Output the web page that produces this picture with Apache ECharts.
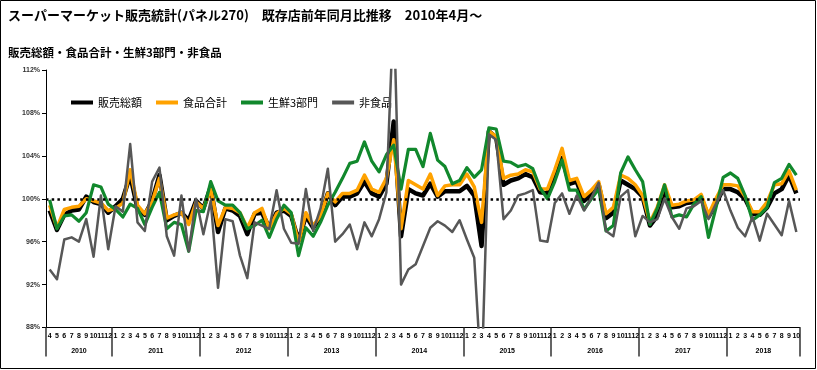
<!DOCTYPE html>
<html><head><meta charset="utf-8">
<script src="https://cdn.jsdelivr.net/npm/echarts@6/dist/echarts.min.js"></script>
<style>html,body{margin:0;padding:0;background:#fff}#c{width:817px;height:370px}</style>
</head><body><div id="c"></div>
<script>
// ---- data ----
const yearLabels = ['2010','2011','2012','2013','2014','2015','2016','2017','2018'];
const yearMonthCounts = [9,12,12,12,12,12,12,12,10];
const monthLabels = [
  '4','5','6','7','8','9','10','11','12',
  '1','2','3','4','5','6','7','8','9','10','11','12',
  '1','2','3','4','5','6','7','8','9','10','11','12',
  '1','2','3','4','5','6','7','8','9','10','11','12',
  '1','2','3','4','5','6','7','8','9','10','11','12',
  '1','2','3','4','5','6','7','8','9','10','11','12',
  '1','2','3','4','5','6','7','8','9','10','11','12',
  '1','2','3','4','5','6','7','8','9','10','11','12',
  '1','2','3','4','5','6','7','8','9','10'
];
const seriesNames = ['販売総額','食品合計','生鮮3部門','非食品'];
const salesTotal = [
  98.9,97.1,98.5,98.9,99.0,100.2,99.7,99.5,98.7,
  99.3,100.0,102.2,99.1,98.5,99.8,102.2,98.0,98.4,98.7,98.0,99.8,
  99.1,101.1,96.9,99.1,98.9,98.4,96.7,98.6,98.7,97.3,98.7,98.9,
  98.4,96.1,98.4,97.3,98.3,100.5,99.4,100.2,100.2,100.5,101.6,100.5,
  100.2,101.4,107.2,96.5,100.9,100.5,100.3,101.4,100.2,100.7,100.7,100.7,
  101.2,100.3,95.6,106.3,105.7,101.3,101.7,101.9,102.3,102.0,100.6,100.5,
  102.2,103.8,101.4,101.6,99.8,100.5,101.3,98.2,98.7,101.7,101.3,100.9,
  100.2,97.5,98.4,100.8,99.2,99.3,99.6,99.7,100.1,98.3,99.5,100.9,
  100.9,100.6,100.0,98.6,98.5,99.2,100.5,100.9,102.2,100.5
];
const foodTotal = [
  99.4,97.3,99.0,99.2,99.3,100.0,99.8,99.6,98.9,
  99.1,99.6,102.7,99.4,98.6,99.7,101.9,98.2,98.5,98.7,97.6,99.7,
  99.1,100.9,97.5,99.2,99.1,98.7,97.3,98.7,99.1,97.2,98.6,99.1,
  98.6,95.9,98.7,97.5,98.4,100.5,99.7,100.5,100.5,100.8,102.2,100.9,
  100.6,101.9,105.5,97.2,101.7,101.3,100.9,102.3,100.3,101.2,101.3,101.3,
  102.3,101.1,97.8,106.3,105.8,101.9,102.2,102.3,102.7,102.5,100.9,100.9,
  102.7,104.7,101.7,101.9,100.2,100.8,101.6,98.6,99.2,102.2,101.9,101.3,
  100.3,97.8,99.2,101.3,99.4,99.5,99.8,99.9,100.4,98.5,100.0,101.3,
  101.3,101.2,100.2,98.8,98.8,99.7,101.3,101.4,102.6,100.8
];
const fresh3 = [
  99.9,97.2,98.4,98.5,97.9,98.7,101.3,101.1,99.5,
  99.0,98.3,99.5,99.1,97.6,99.2,100.6,97.2,97.8,97.6,95.1,98.9,
  98.8,101.6,99.8,99.4,99.4,98.7,97.2,97.5,98.0,96.4,98.1,99.4,
  98.7,94.7,97.3,96.5,97.8,99.4,100.6,101.9,103.3,103.5,105.3,103.5,
  102.5,104.1,105.0,100.9,104.6,104.6,103.0,106.1,103.6,103.0,101.4,101.7,
  102.9,102.0,102.7,106.6,106.5,103.5,103.4,103.0,103.2,102.8,101.0,100.0,
  101.6,103.6,100.8,100.8,99.0,100.0,100.9,97.0,97.5,102.4,103.9,102.7,
  101.6,97.6,99.1,101.3,98.3,98.5,98.3,99.5,100.2,96.4,99.1,102.0,
  102.4,101.9,100.3,98.0,98.5,99.2,101.5,101.9,103.2,102.2
];
const nonFood = [
  93.4,92.5,96.2,96.4,96.0,98.1,94.6,100.3,95.3,
  99.3,98.8,105.1,97.8,97.0,101.6,102.9,96.5,94.7,100.3,95.1,100.0,
  96.7,99.8,91.7,98.1,97.9,94.7,92.6,97.8,97.5,97.2,100.8,97.2,
  95.9,95.8,100.9,97.0,99.1,102.8,96.0,96.7,97.6,95.3,97.8,96.5,
  98.1,100.6,118.0,92.0,93.4,93.9,95.6,97.3,97.9,97.5,96.9,98.0,
  96.2,94.5,83.0,106.0,105.5,98.1,98.9,100.3,100.5,100.8,96.1,96.0,
  99.6,100.5,98.6,100.3,98.9,100.1,101.5,97.0,96.5,100.2,100.8,96.5,
  98.4,97.8,98.1,100.0,98.3,97.2,99.1,99.3,99.8,98.1,99.5,100.8,
  98.9,97.3,96.5,98.3,96.1,98.6,97.6,96.6,99.8,96.9
];
const baseLine = 100;

// ---- build ----
const categories = [];
(function(){ let k = 0; yearLabels.forEach((y, yi) => { for (let m = 0; m < yearMonthCounts[yi]; m++) { categories.push(y + '/' + monthLabels[k]); k++; } }); })();
const yearBounds = [0];
yearMonthCounts.forEach(c => yearBounds.push(yearBounds[yearBounds.length - 1] + c));
const yearCenters = yearLabels.map((y, k) => (yearBounds[k] + yearBounds[k + 1]) / 2);

const JP = '"Noto Sans CJK JP", sans-serif';
const NUM = '"Liberation Sans", Arial, sans-serif';
const colors = ['#000000', '#FFA200', '#11882C', '#575757'];
const widths = [4.5, 3.5, 3.2, 2.5];
const datasets = [salesTotal, foodTotal, fresh3, nonFood];

const series = datasets.map((d, i) => ({
  name: seriesNames[i], type: 'line', data: d, symbol: 'none', clip: true,
  lineStyle: { color: colors[i], width: widths[i], join: 'round' },
  itemStyle: { color: colors[i] }, z: 2 + i, silent: true,
  emphasis: { disabled: true }
}));
series[0].markLine = {
  silent: true, symbol: ['none', 'none'], label: { show: false },
  lineStyle: { color: '#000', type: [2.5, 3.2], width: 2.5 },
  data: [{ yAxis: baseLine }]
};

const chart = echarts.init(document.getElementById('c'), null, { renderer: 'canvas' });
chart.setOption({
  animation: false,
  backgroundColor: '#fff',
  title: [
    { text: 'スーパーマーケット販売統計(パネル270)　既存店前年同月比推移　2010年4月～', left: 8, top: 9, padding: 0,
      textStyle: { fontFamily: JP, fontSize: 13, fontWeight: 'bold', color: '#000' } },
    { text: '販売総額・食品合計・生鮮3部門・非食品', left: 8, top: 47, padding: 0,
      textStyle: { fontFamily: JP, fontSize: 11.5, fontWeight: 'bold', color: '#000' } }
  ],
  legend: {
    data: seriesNames, left: 71, top: 97, padding: 0, itemGap: 14,
    itemWidth: 22, itemHeight: 4, icon: 'rect',
    textStyle: { fontFamily: JP, fontSize: 11, color: '#000' }
  },
  graphic: [{ type: 'rect', silent: true, z: 100,
    shape: { x: 0.5, y: 0.5, width: 815, height: 368 },
    style: { fill: null, stroke: '#000', lineWidth: 1 } }],
  grid: { left: 46, right: 17, top: 70, bottom: 42.5, containLabel: false },
  xAxis: [
    { type: 'category', data: categories, boundaryGap: true, position: 'bottom',
      axisLine: { show: true, lineStyle: { color: '#000', width: 1 } },
      axisTick: { show: false },
      axisLabel: { interval: 0, margin: 5, fontFamily: NUM, fontSize: 7, fontWeight: 'bold', color: '#000',
        formatter: v => v.split('/')[1] },
      splitLine: { show: false } },
    { type: 'value', position: 'bottom', min: 0, max: categories.length,
      axisLine: { show: false }, splitLine: { show: false },
      axisTick: { show: true, customValues: yearBounds, length: 29, lineStyle: { color: '#333', width: 1.5 } },
      axisLabel: { customValues: yearCenters, margin: 20, fontFamily: NUM, fontSize: 7, fontWeight: 'bold', color: '#000',
        formatter: v => yearLabels[yearCenters.indexOf(v)] } }
  ],
  yAxis: {
    type: 'value', min: 88, max: 112, interval: 4,
    axisLine: { show: true, lineStyle: { color: '#000', width: 1 } },
    axisTick: { show: true, length: 4, lineStyle: { color: '#000' } },
    splitLine: { show: false },
    axisLabel: { formatter: '{value}%', margin: 6, fontFamily: NUM, fontSize: 7, fontWeight: 'bold', color: '#333' }
  },
  series: series
});
</script></body></html>
